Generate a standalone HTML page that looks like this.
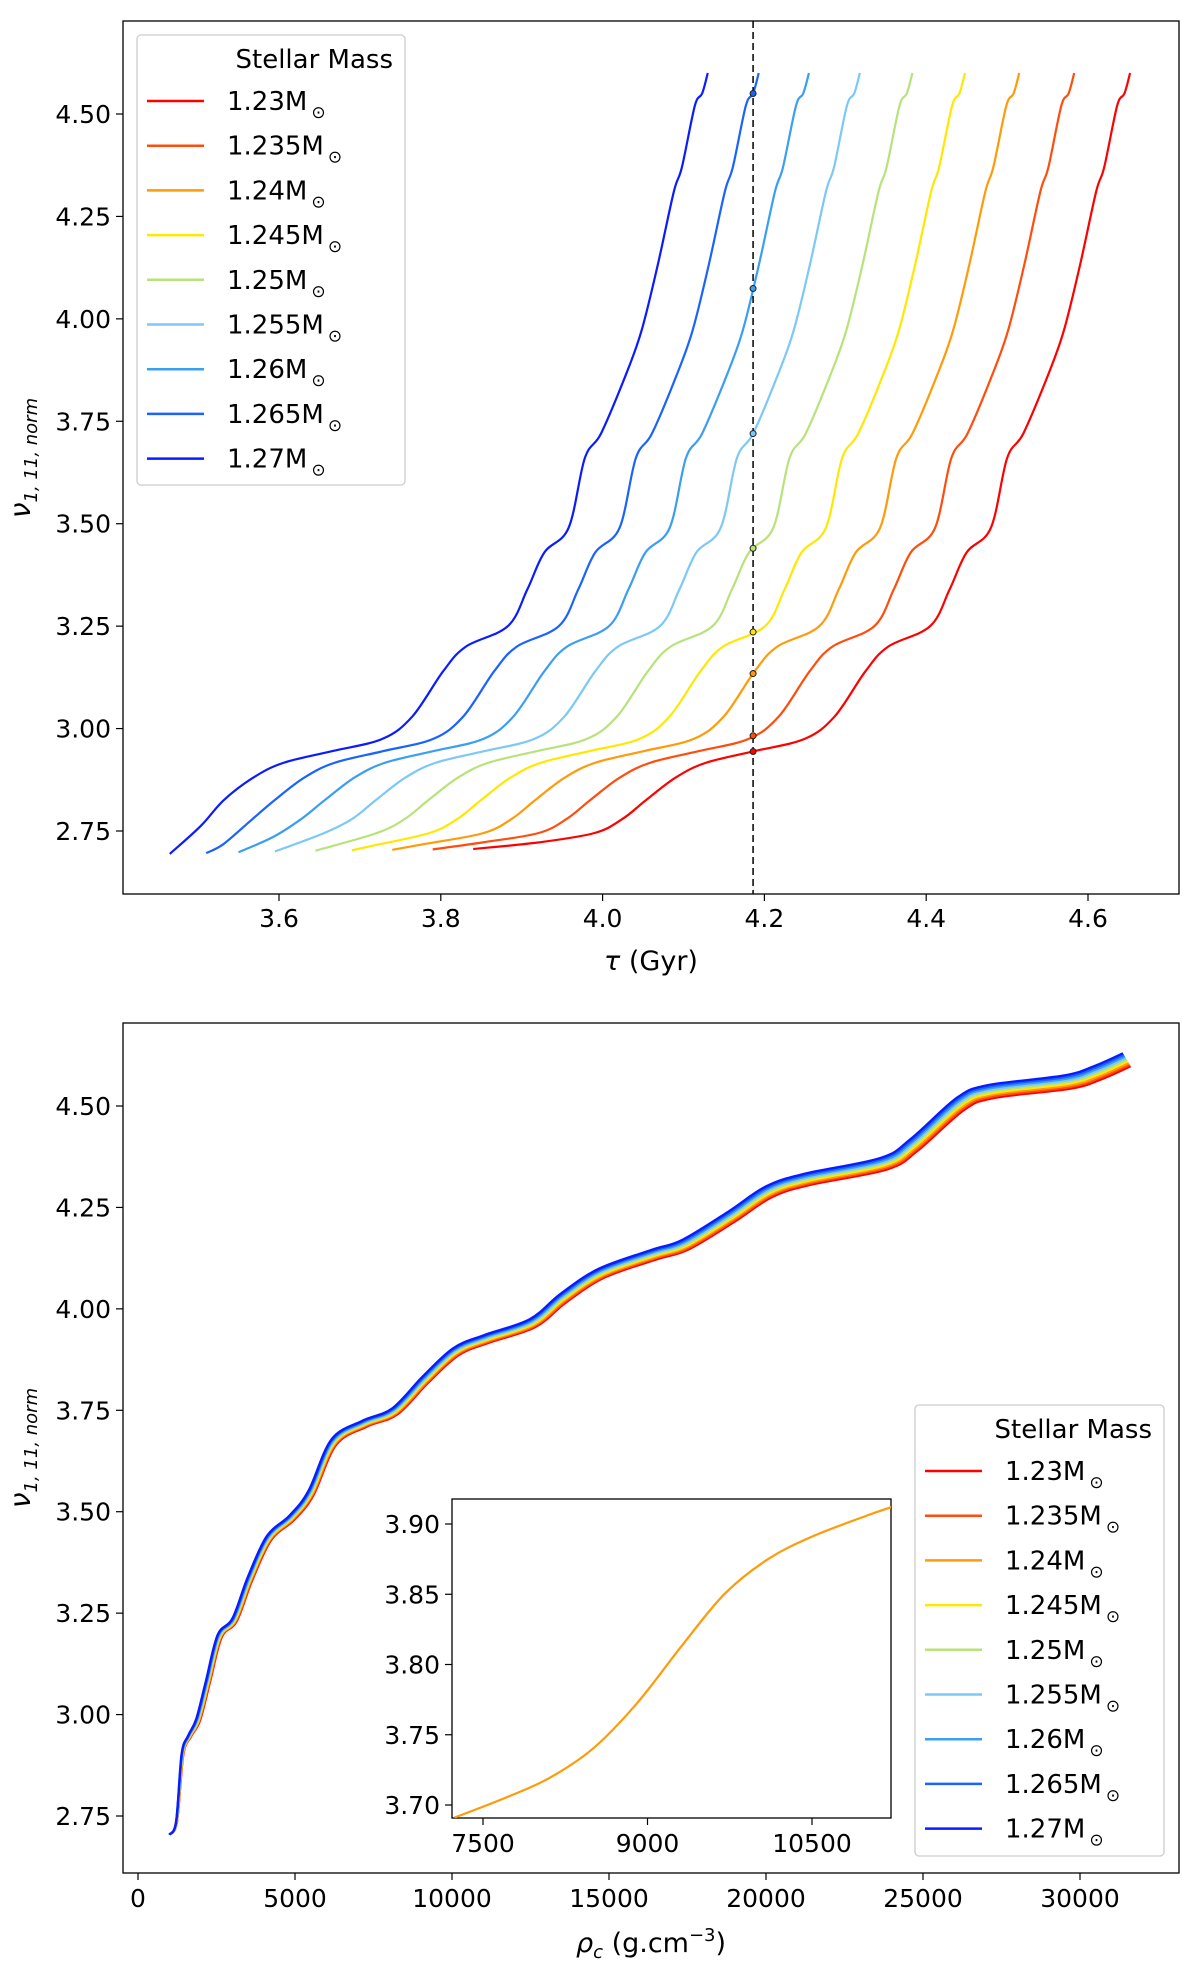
<!DOCTYPE html>
<html><head><meta charset="utf-8"><style>
body{margin:0;background:#fff;}
svg{display:block;font-family:"DejaVu Sans","Liberation Sans",sans-serif;}
</style></head><body>
<svg id="fig" width="1200" height="1972" viewBox="0 0 1200 1972" xmlns="http://www.w3.org/2000/svg"></svg>
<script>
const masses=["1.23","1.235","1.24","1.245","1.25","1.255","1.26","1.265","1.27"];
const colors=["#ff0000","#ff4d0d","#ff9b0a","#ffe800","#b8e27a","#7cc8f7","#3a9ef2","#1a63ff","#0a1cff"];
// top panel: reference (1.23) curve
const tauRef=[3.84,3.92,3.99,4.025,4.054,4.09,4.127,4.188,4.25,4.287,4.325,4.353,4.405,4.429,4.45,4.48,4.50,4.52,4.55,4.57,4.59,4.61,4.62,4.636,4.645,4.652];
const nuRef=[2.706,2.722,2.745,2.78,2.826,2.88,2.916,2.945,2.975,3.03,3.14,3.2,3.25,3.34,3.43,3.49,3.66,3.72,3.86,3.97,4.13,4.31,4.37,4.52,4.55,4.60];
const tauStart=[3.84,3.79,3.74,3.69,3.645,3.595,3.55,3.51,3.465];
const nuStart=[2.706,2.705,2.704,2.703,2.702,2.700,2.698,2.696,2.694];
const tauOffset=[0,-0.069,-0.137,-0.204,-0.269,-0.334,-0.397,-0.459,-0.522];
const tauMark=4.186;
// bottom panel
const rhoRef=[1000,1240,1440,1680,1970,2290,2660,3140,3630,4240,4970,5580,6310,7290,8260,9240,10210,11190,12650,13630,14850,16550,17520,19000,20200,21420,23860,24830,26300,27270,29710,30680,31610];
const nuRho=[2.704,2.735,2.90,2.945,2.985,3.08,3.19,3.23,3.33,3.43,3.48,3.54,3.665,3.71,3.74,3.818,3.886,3.917,3.955,4.016,4.077,4.123,4.146,4.215,4.276,4.306,4.344,4.39,4.49,4.52,4.543,4.566,4.598];
const rhoShift=[0,-30,-60,-90,-120,-150,-180,-210,-240];
const inRho=[7240,7700,8100,8500,8900,9300,9700,10100,10500,11000,11300];
const inNu=[3.691,3.705,3.719,3.740,3.772,3.812,3.850,3.875,3.891,3.906,3.914];
const topXTicks=[3.6,3.8,4.0,4.2,4.4,4.6];
const yTicks=[2.75,3.00,3.25,3.50,3.75,4.00,4.25,4.50];
const botXTicks=[0,5000,10000,15000,20000,25000,30000];
const inXTicks=[7500,9000,10500];
const inYTicks=[3.70,3.75,3.80,3.85,3.90];

const NS="http://www.w3.org/2000/svg";
const svg=document.getElementById('fig');
function mk(tag,attrs,parent){const e=document.createElementNS(NS,tag);for(const k in attrs)e.setAttribute(k,attrs[k]);(parent||svg).appendChild(e);return e;}
function lin(d0,d1,r0,r1){return v=>r0+(v-d0)*(r1-r0)/(d1-d0);}
function smooth(pts){let d="M"+pts[0][0].toFixed(1)+","+pts[0][1].toFixed(1);
 for(let i=0;i<pts.length-1;i++){const p0=pts[Math.max(0,i-1)],p1=pts[i],p2=pts[i+1],p3=pts[Math.min(pts.length-1,i+2)];
  const c1=[p1[0]+(p2[0]-p0[0])/6,p1[1]+(p2[1]-p0[1])/6],c2=[p2[0]-(p3[0]-p1[0])/6,p2[1]-(p3[1]-p1[1])/6];
  d+=" C"+c1[0].toFixed(1)+","+c1[1].toFixed(1)+" "+c2[0].toFixed(1)+","+c2[1].toFixed(1)+" "+p2[0].toFixed(1)+","+p2[1].toFixed(1);}
 return d;}
function fmt(v,dp){return v.toFixed(dp);}
function interp(xs,ys,x){if(x<=xs[0])return ys[0];for(let k=0;k<xs.length-1;k++){if(x<=xs[k+1]){const f=(x-xs[k])/(xs[k+1]-xs[k]);return ys[k]+f*(ys[k+1]-ys[k]);}}return ys[ys.length-1];}
const FS=25;

// ---------- TOP PANEL ----------
const tx=lin(3.6,4.6,279,1088), ty=lin(2.75,4.5,831,114);
const gTop=mk('g',{});


const clipT=mk('clipPath',{id:'ct'});mk('rect',{x:123,y:21,width:1056,height:873},clipT);
mk('rect',{x:123,y:21,width:1056,height:873,fill:'none',stroke:'#000','stroke-width':1.3},gTop);
const curvesT=mk('g',{'clip-path':'url(#ct)'},gTop);
const markerPts=[];
const FADE=0.06;
masses.forEach((m,i)=>{
 const d=nuStart[i]-interp(tauRef,nuRef,tauStart[i]-tauOffset[i]);
 const taus=[tauStart[i]], nus=[nuStart[i]];
 tauRef.forEach((t,k)=>{const tt=t+tauOffset[i];
  if(tt>tauStart[i]+0.015){const f=Math.max(0,1-(tt-tauStart[i])/FADE);taus.push(tt);nus.push(nuRef[k]+d*f);}});
 const p=mk('path',{d:smooth(taus.map((t,k)=>[tx(t),ty(nus[k])])),fill:'none',stroke:colors[i],'stroke-width':2.2},curvesT);
 
 
 for(let k=0;k<taus.length-1;k++){if(taus[k]<=tauMark&&taus[k+1]>=tauMark){const f=(tauMark-taus[k])/(taus[k+1]-taus[k]);markerPts.push([nus[k]+f*(nus[k+1]-nus[k]),colors[i],m]);break;}}
});
const dl=mk('line',{x1:tx(tauMark),x2:tx(tauMark),y1:21,y2:894,stroke:'#000','stroke-width':1.5,'stroke-dasharray':'7,4'},gTop);

markerPts.forEach(mp=>{const c=mk('circle',{cx:tx(tauMark),cy:ty(mp[0]),r:3,fill:mp[1],stroke:'#222','stroke-width':1},gTop);
 });
topXTicks.forEach(v=>{mk('line',{x1:tx(v),x2:tx(v),y1:894,y2:901,stroke:'#000','stroke-width':1.2},gTop);
 const t=mk('text',{x:tx(v),y:927,'font-size':FS,'text-anchor':'middle'},gTop);t.textContent=fmt(v,1);
 });
yTicks.forEach(v=>{mk('line',{x1:116,x2:123,y1:ty(v),y2:ty(v),stroke:'#000','stroke-width':1.2},gTop);
 const t=mk('text',{x:111,y:ty(v)+9,'font-size':FS,'text-anchor':'end'},gTop);t.textContent=fmt(v,2);
 });
let xl=mk('text',{x:651,y:970,'font-size':27,'text-anchor':'middle'},gTop);
xl.innerHTML='<tspan font-style="italic">τ</tspan> (Gyr)';

let yl=mk('text',{transform:'translate(30,458) rotate(-90)','font-size':28,'text-anchor':'middle'},gTop);
yl.innerHTML='<tspan font-style="italic">ν</tspan><tspan font-size="18" dy="7" font-style="italic">1, 11, norm</tspan>';


function legend(x0,y0,w,h,name){
 const g=mk('g',{});
 
 
 mk('rect',{x:x0,y:y0,width:w,height:h,rx:4,fill:'#fff','fill-opacity':0.85,stroke:'#ccc','stroke-width':1.3},g);
 const tt=mk('text',{x:x0+w-12,y:y0+33,'font-size':26,'text-anchor':'end'},g);tt.textContent='Stellar Mass';
 
 masses.forEach((m,i)=>{const yy=y0+66+i*44.7;
  const e=mk('g',{},g);
  
  
  mk('line',{x1:x0+10,x2:x0+67,y1:yy,y2:yy,stroke:colors[i],'stroke-width':2.5},e);
  const t=mk('text',{x:x0+90,y:yy+9,'font-size':26},e);
  t.innerHTML=m+'M<tspan font-size="17" dx="4" dy="8">⊙</tspan>';});
}
legend(137,35,268,450,'top-legend');

// ---------- BOTTOM PANEL ----------
const bx=lin(0,30000,138,1080), by=lin(2.75,4.5,1816,1106);
const gB=mk('g',{});


const clipB=mk('clipPath',{id:'cb'});mk('rect',{x:123,y:1023,width:1056,height:850},clipB);
mk('rect',{x:123,y:1023,width:1056,height:850,fill:'none',stroke:'#000','stroke-width':1.3},gB);
const cB=mk('g',{'clip-path':'url(#cb)'},gB);
masses.forEach((m,i)=>{
 const p=mk('path',{d:smooth(rhoRef.map((r,k)=>[bx(r+rhoShift[i]*Math.min(1,k/4)*(0.4+0.6*k/32)),by(nuRho[k]+i*0.004*Math.min(1,k/30))])),fill:'none',stroke:colors[i],'stroke-width':2.4},cB);
 
 
});
botXTicks.forEach(v=>{mk('line',{x1:bx(v),x2:bx(v),y1:1873,y2:1880,stroke:'#000','stroke-width':1.2},gB);
 const t=mk('text',{x:bx(v),y:1907,'font-size':FS,'text-anchor':'middle'},gB);t.textContent=String(v);
 });
yTicks.forEach(v=>{mk('line',{x1:116,x2:123,y1:by(v),y2:by(v),stroke:'#000','stroke-width':1.2},gB);
 const t=mk('text',{x:111,y:by(v)+9,'font-size':FS,'text-anchor':'end'},gB);t.textContent=fmt(v,2);
 });
xl=mk('text',{x:651,y:1952,'font-size':27,'text-anchor':'middle'},gB);
xl.innerHTML='<tspan font-style="italic">ρ</tspan><tspan font-size="18" dy="6" font-style="italic">c</tspan><tspan dy="-6"> (g.cm</tspan><tspan font-size="18" dy="-11">−3</tspan><tspan dy="11">)</tspan>';

yl=mk('text',{transform:'translate(30,1448) rotate(-90)','font-size':28,'text-anchor':'middle'},gB);
yl.innerHTML='<tspan font-style="italic">ν</tspan><tspan font-size="18" dy="7" font-style="italic">1, 11, norm</tspan>';


// inset
const ix=lin(7500,10500,483,812), iy=lin(3.70,3.90,1805,1524);
const gI=mk('g',{});


mk('rect',{x:452,y:1499,width:439,height:319,fill:'#fff',stroke:'#000','stroke-width':1.3},gI);
const clipI=mk('clipPath',{id:'ci'});mk('rect',{x:452,y:1499,width:439,height:319},clipI);
const ip=mk('path',{d:smooth(inRho.map((r,k)=>[ix(r),iy(inNu[k])])),fill:'none',stroke:colors[2],'stroke-width':2.2,'clip-path':'url(#ci)'},gI);

inXTicks.forEach(v=>{mk('line',{x1:ix(v),x2:ix(v),y1:1818,y2:1825,stroke:'#000','stroke-width':1.2},gI);
 const t=mk('text',{x:ix(v),y:1852,'font-size':FS,'text-anchor':'middle'},gI);t.textContent=String(v);
 });
inYTicks.forEach(v=>{mk('line',{x1:445,x2:452,y1:iy(v),y2:iy(v),stroke:'#000','stroke-width':1.2},gI);
 const t=mk('text',{x:440,y:iy(v)+9,'font-size':FS,'text-anchor':'end'},gI);t.textContent=fmt(v,2);
 });

legend(915,1405,249,451,'bottom-legend');
</script>
</body></html>
